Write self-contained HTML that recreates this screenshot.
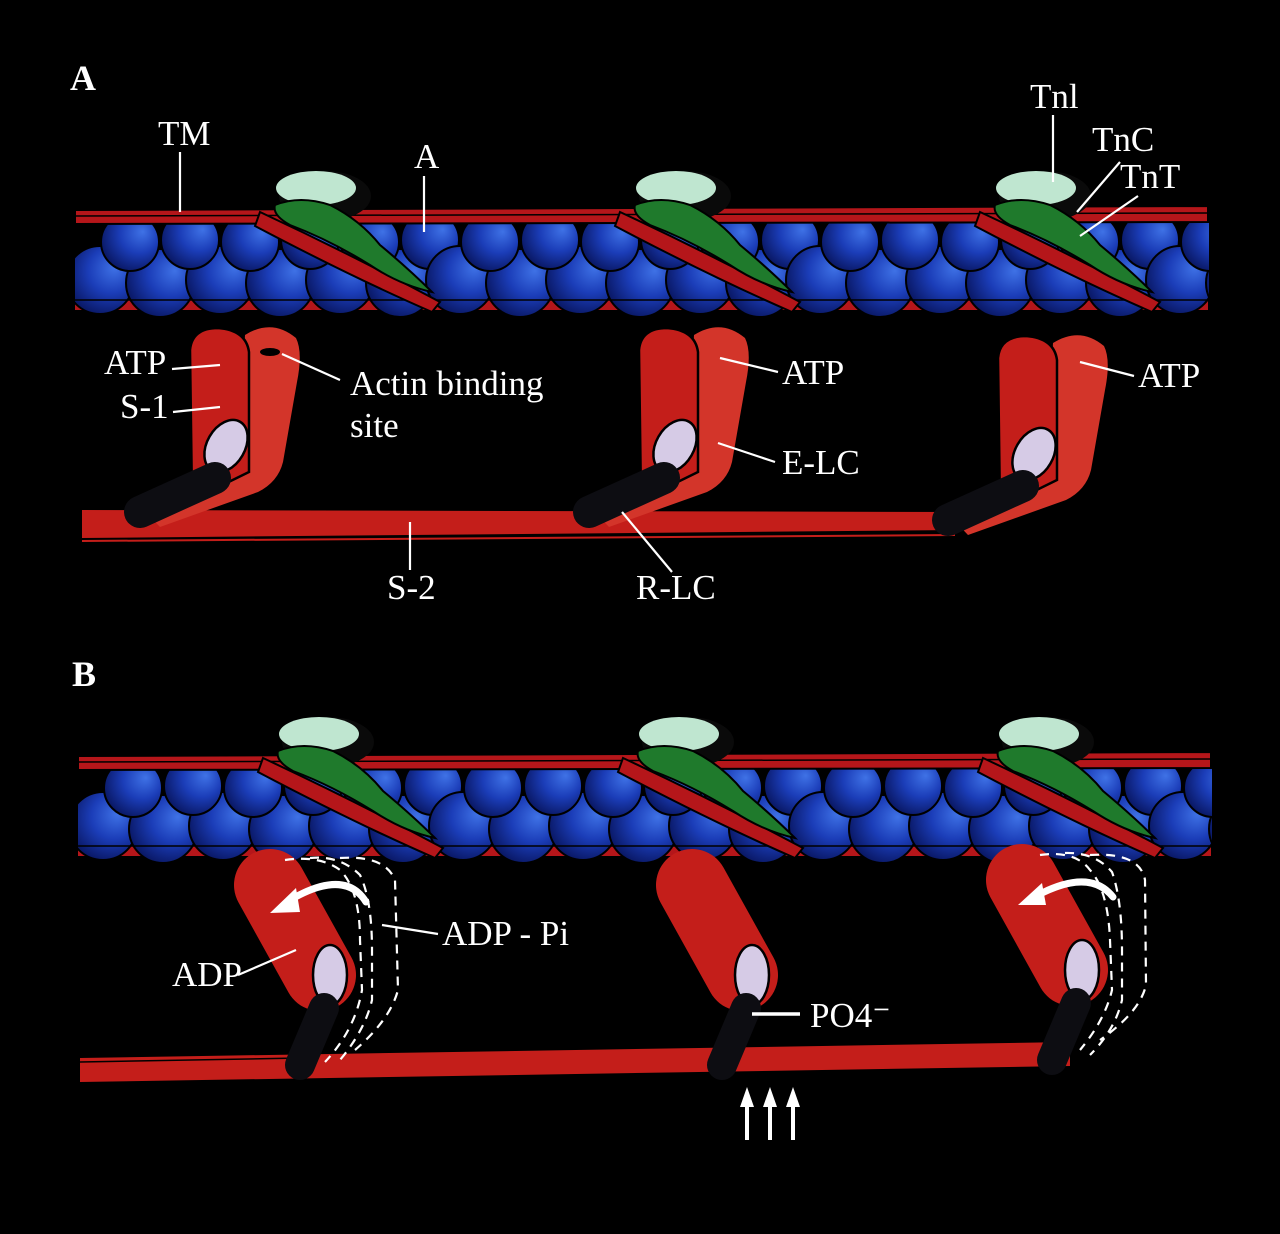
<!DOCTYPE html>
<html><head><meta charset="utf-8"><style>
html,body{margin:0;padding:0;background:#000;}
svg{display:block}
text{font-family:"Liberation Serif",serif;fill:#fff;font-size:35px}
</style></head><body>
<svg width="1280" height="1234" viewBox="0 0 1280 1234" xmlns="http://www.w3.org/2000/svg">
<defs>
<radialGradient id="bg" cx="0.6" cy="0.4" r="0.75" fx="0.72" fy="0.32">
<stop offset="0" stop-color="#3f72e6"/><stop offset="0.45" stop-color="#1b3db8"/><stop offset="1" stop-color="#040c4a"/>
</radialGradient>
<clipPath id="fc"><rect x="75" y="150" width="1134" height="170"/></clipPath>
<g id="P">
<circle cx="100" cy="280" r="34"/><circle cx="160" cy="283" r="34"/><circle cx="220" cy="280" r="34"/><circle cx="280" cy="283" r="34"/><circle cx="340" cy="280" r="34"/><circle cx="400" cy="283" r="34"/>
<circle cx="130" cy="242" r="29"/><circle cx="190" cy="240" r="29"/><circle cx="250" cy="242" r="29"/><circle cx="310" cy="240" r="29"/><circle cx="370" cy="242" r="29"/><circle cx="430" cy="240" r="29"/>
</g>
<g id="T">
<path d="M260,212 C320,240 380,270 440,302 L432,312 C370,285 310,255 255,226 Z" fill="#b5161a" stroke="#000" stroke-width="2"/>
<ellipse cx="325" cy="196" rx="46" ry="25" fill="#0a0a0a"/>
<ellipse cx="316" cy="188" rx="40" ry="17" fill="#bfe6d0"/>
<path d="M275,205 Q300,195 330,205 Q360,220 380,245 Q410,270 432,292 Q400,285 370,265 Q330,240 290,225 Q272,215 275,205Z" fill="#1f7a2c" stroke="#000" stroke-width="2"/>
</g>
<g id="F">
<g clip-path="url(#fc)">
<path d="M75,290 L1208,290 L1208,310 L75,310Z" fill="#b5161a"/>
<g fill="url(#bg)" stroke="#000" stroke-width="2">
<use href="#P"/><use href="#P" x="360"/><use href="#P" x="720"/><use href="#P" x="1080"/>
</g>
<path d="M75,210 L1208,206 L1208,222 L75,224Z" fill="#b5161a" stroke="#000" stroke-width="2"/>
<path d="M75,216 L1208,213" stroke="#000" stroke-width="1.5"/>
<path d="M75,300 L1208,300" stroke="#000" stroke-width="1.5"/>
<use href="#T"/><use href="#T" x="360"/><use href="#T" x="720"/>
</g>
</g>
<g id="H">
<path d="M245,335 Q272,318 296,338 Q303,352 297,382 L283,462 Q278,482 258,492 L160,527 L142,508 L238,468Z" fill="#d3352a"/>
<path d="M190,350 Q192,328 218,328 Q246,330 249,352 L249,472 L192,500Z" fill="#c41e1a" stroke="#000" stroke-width="2.5"/>
<ellipse cx="226" cy="446" rx="19" ry="28" transform="rotate(30 226 446)" fill="#d6cbe6" stroke="#000" stroke-width="2.5"/>
<path d="M215,478 L140,512" stroke="#0d0d12" stroke-width="32" stroke-linecap="round"/>
</g>
<g id="HB">
<path d="M270,885 L320,975" stroke="#c41e1a" stroke-width="72" stroke-linecap="round"/>
<ellipse cx="330" cy="975" rx="17" ry="30" fill="#d6cbe6" stroke="#000" stroke-width="2.5"/>
<path d="M324,1008 L300,1065" stroke="#0d0d12" stroke-width="30" stroke-linecap="round"/>
</g>
</defs>

<text x="70" y="90" style="font-size:36px;font-weight:bold">A</text>
<text x="72" y="686" style="font-size:36px;font-weight:bold">B</text>

<use href="#F"/>
<path d="M82,510 L960,512 L960,530 L82,538Z" fill="#c41e1a"/>
<path d="M82,541 L955,535" stroke="#c41e1a" stroke-width="2"/>
<use href="#H"/><use href="#H" x="449"/><use href="#H" x="808" y="8"/>
<ellipse cx="270" cy="352" rx="10" ry="4" fill="#000"/>

<g stroke="#fff" stroke-width="2.2" fill="none">
<path d="M180,152 L180,212"/><path d="M424,176 L424,232"/>
<path d="M1053,115 L1053,182"/><path d="M1120,162 L1077,212"/><path d="M1138,196 L1080,236"/>
<path d="M172,369 L220,365"/><path d="M173,412 L220,407"/><path d="M282,354 L340,380"/>
<path d="M720,358 L778,372"/><path d="M718,443 L775,462"/><path d="M1080,362 L1134,376"/>
<path d="M410,522 L410,570"/><path d="M622,512 L672,572"/>
</g>

<g transform="translate(3,546)"><use href="#F"/></g>
<path d="M80,1058 L1070,1042 L1070,1066 L80,1082Z" fill="#c41e1a"/>
<path d="M80,1062 L300,1058" stroke="#000" stroke-width="1.5"/>
<use href="#HB"/><use href="#HB" x="422" y="0"/><use href="#HB" x="752" y="-5"/>

<g stroke="#fff" stroke-width="2.2" fill="none" stroke-dasharray="9,7">
<path d="M285,860 Q320,855 340,870 Q360,890 360,940 L362,990 Q355,1030 325,1062"/>
<path d="M310,858 Q340,855 360,875 Q372,900 372,950 L372,1000 Q365,1030 340,1060"/>
<path d="M340,858 Q385,855 395,880 L398,990 Q390,1020 355,1050"/>
<path d="M1040,855 Q1075,850 1090,870 Q1108,890 1110,940 L1112,990 Q1105,1020 1080,1050"/>
<path d="M1065,853 Q1095,852 1112,872 Q1122,900 1122,950 L1122,1000 Q1115,1030 1090,1055"/>
<path d="M1090,855 Q1140,852 1145,880 L1146,985 Q1140,1012 1100,1040"/>
</g>
<g fill="none" stroke="#fff" stroke-width="7" stroke-linecap="round">
<path d="M366,902 Q345,868 290,900"/>
<path d="M1113,897 Q1090,868 1038,895"/>
</g>
<polygon points="270,913 296,888 300,912" fill="#fff"/>
<polygon points="1018,905 1042,883 1046,905" fill="#fff"/>

<g stroke="#fff" stroke-width="2.2" fill="none">
<path d="M382,925 L438,934"/><path d="M238,975 L296,950"/>
</g>
<path d="M752,1014 L800,1014" stroke="#fff" stroke-width="3.5"/>

<g fill="#fff">
<rect x="745" y="1105" width="4" height="35"/><polygon points="740,1107 747,1087 754,1107"/>
<rect x="768" y="1105" width="4" height="35"/><polygon points="763,1107 770,1087 777,1107"/>
<rect x="791" y="1105" width="4" height="35"/><polygon points="786,1107 793,1087 800,1107"/>
</g>

<text x="158" y="145">TM</text>
<text x="414" y="168">A</text>
<text x="1030" y="108">Tnl</text>
<text x="1092" y="151">TnC</text>
<text x="1120" y="188">TnT</text>
<text x="104" y="374">ATP</text>
<text x="120" y="418">S-1</text>
<text x="350" y="395">Actin binding</text>
<text x="350" y="437">site</text>
<text x="782" y="384">ATP</text>
<text x="782" y="474">E-LC</text>
<text x="1138" y="387">ATP</text>
<text x="387" y="599">S-2</text>
<text x="636" y="599">R-LC</text>
<text x="442" y="945">ADP - Pi</text>
<text x="172" y="986">ADP</text>
<text x="810" y="1027">PO4⁻</text>
</svg>
</body></html>
